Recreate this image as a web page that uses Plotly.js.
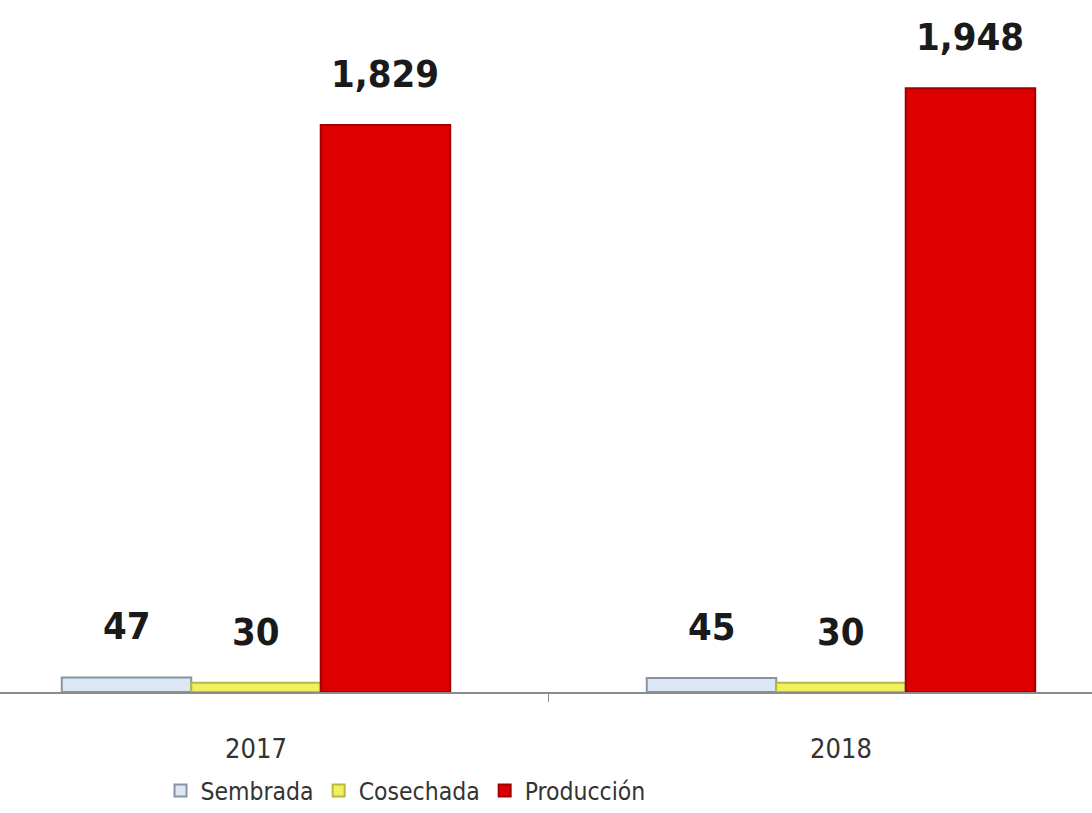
<!DOCTYPE html>
<html>
<head>
<meta charset="utf-8">
<script src="https://cdn.plot.ly/plotly-3.0.1.min.js"></script>
<style>html,body{margin:0;padding:0;background:#fff;}#chart{width:1092px;height:813px;}</style>
</head>
<body>
<div id="chart"></div>
<script>
const years = ['2017', '2018'];
const seriesNames = ['Sembrada', 'Cosechada', 'Producción'];
const sembrada = [47, 45];
const cosechada = [30, 30];
const produccion = [1829, 1948];

const seriesValues = [sembrada, cosechada, produccion];
const fills = ['#dbe7f4', '#f0f060', '#dd0000'];
const edges = ['#8893a3', '#b8b840', '#a30000'];
const FONT = '"DejaVu Sans Condensed", "Liberation Sans Narrow", "Arial Narrow", sans-serif';
const bargap = 0.336;

const traces = seriesValues.map((vals, i) => ({
  type: 'bar',
  name: seriesNames[i],
  x: years,
  y: vals,
  marker: {color: fills[i], line: {color: edges[i], width: 2}},
  hoverinfo: 'skip'
}));

const w = (1 - bargap) / 3;
const annotations = [];
seriesValues.forEach((vals, i) => {
  vals.forEach((v, j) => {
    annotations.push({
      x: j + (i - 1) * w,
      y: v,
      xref: 'x', yref: 'y',
      text: v.toLocaleString('en-US'),
      showarrow: false,
      yanchor: 'bottom',
      yshift: 27,
      font: {family: FONT, size: 38, color: '#1a1a1a', weight: 'bold'}
    });
  });
});

const layout = {
  width: 1092, height: 813,
  margin: {l: 0, r: 0, t: 20, b: 121},
  paper_bgcolor: '#fff', plot_bgcolor: '#fff',
  barmode: 'group',
  bargap: bargap,
  bargroupgap: 0,
  showlegend: true,
  legend: {
    orientation: 'h',
    x: 0.147, xanchor: 'left',
    yref: 'container', y: 0, yanchor: 'bottom',
    font: {family: FONT, size: 24.5, color: '#333'},
    itemwidth: 30,
    traceorder: 'normal'
  },
  xaxis: {
    type: 'category',
    range: [-0.4376, 1.4291],
    showline: true, linecolor: '#8c8c8c', linewidth: 1.5,
    ticks: 'outside', tickson: 'boundaries', ticklen: 8, tickcolor: '#8c8c8c',
    ticklabelstandoff: 32,
    showgrid: false, zeroline: false,
    tickfont: {family: FONT, size: 27, color: '#333'}
  },
  yaxis: {
    range: [0, 2168],
    visible: false,
    showgrid: false, zeroline: false
  },
  annotations: annotations
};

Plotly.newPlot('chart', traces, layout, {displayModeBar: false, staticPlot: true});
</script>
</body>
</html>
